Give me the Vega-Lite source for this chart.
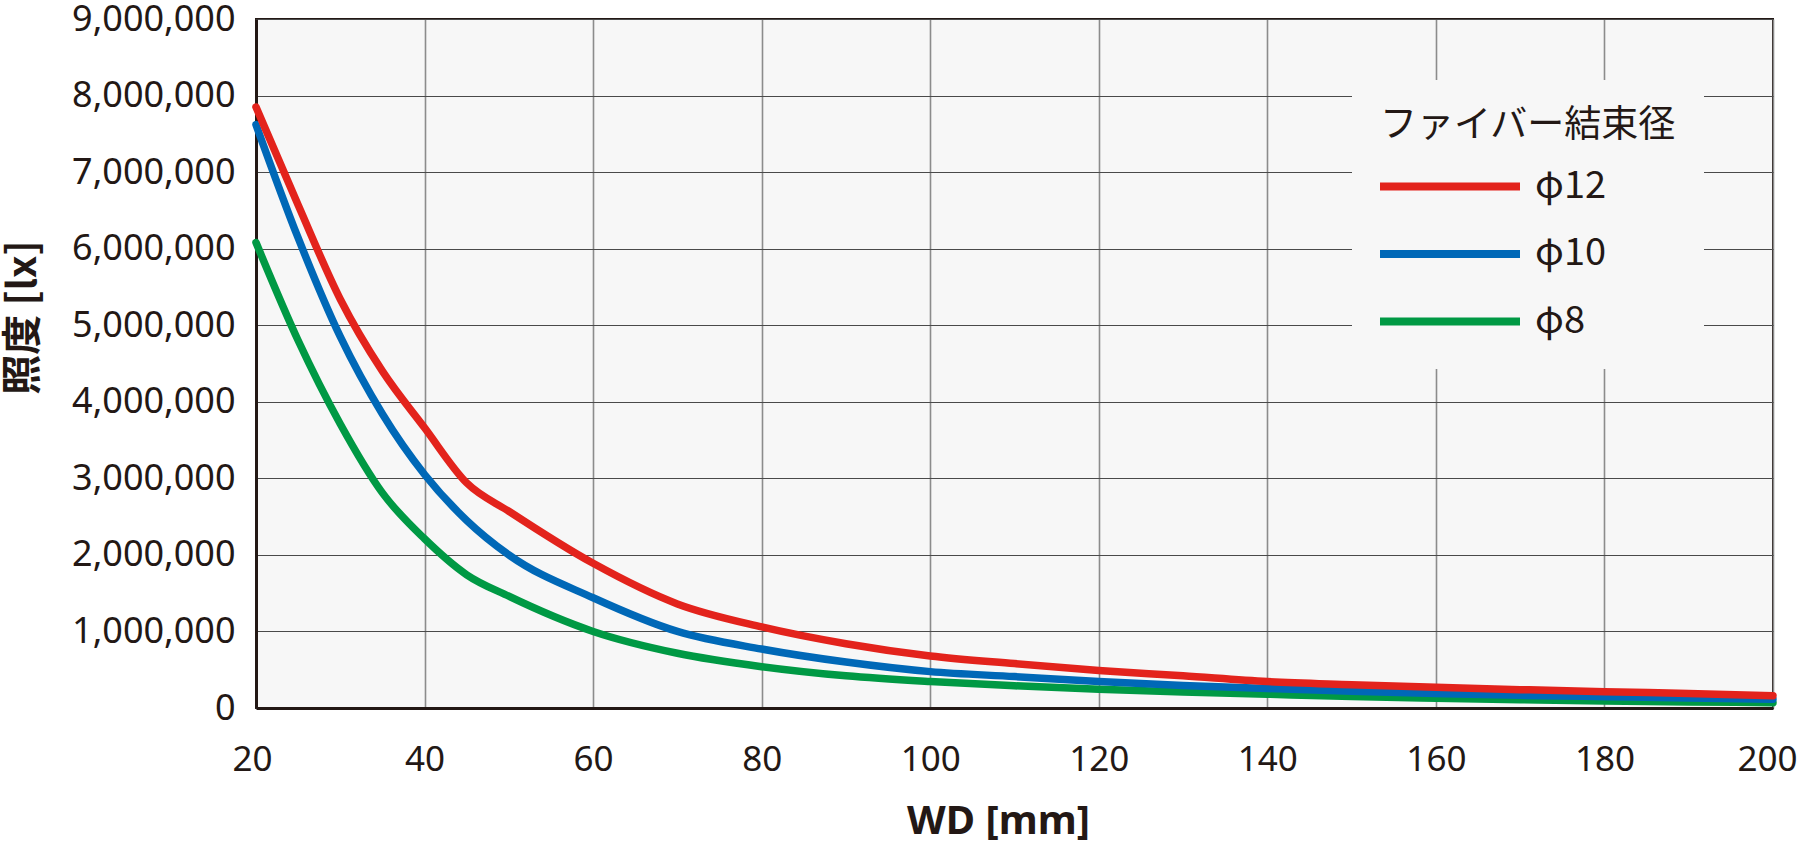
{
  "$schema": "https://vega.github.io/schema/vega-lite/v6.json",
  "width": 1517,
  "height": 689,
  "autosize": {"type": "none"},
  "padding": {"left": 256, "top": 19, "right": 27, "bottom": 136},
  "background": "#ffffff",
  "config": {
    "view": {"fill": "#f7f7f7", "stroke": "#231815", "strokeWidth": 2},
    "axis": {"labelColor": "#231815", "titleColor": "#231815"}
  },
  "data": {
    "values": [
      {"wd": 20, "lx": 6080000, "series": "φ8"},
      {"wd": 25, "lx": 4800000, "series": "φ8"},
      {"wd": 30, "lx": 3710000, "series": "φ8"},
      {"wd": 35, "lx": 2810000, "series": "φ8"},
      {"wd": 40, "lx": 2210000, "series": "φ8"},
      {"wd": 45, "lx": 1740000, "series": "φ8"},
      {"wd": 50, "lx": 1460000, "series": "φ8"},
      {"wd": 60, "lx": 1000000, "series": "φ8"},
      {"wd": 70, "lx": 715000, "series": "φ8"},
      {"wd": 80, "lx": 540000, "series": "φ8"},
      {"wd": 90, "lx": 420000, "series": "φ8"},
      {"wd": 100, "lx": 345000, "series": "φ8"},
      {"wd": 110, "lx": 290000, "series": "φ8"},
      {"wd": 120, "lx": 245000, "series": "φ8"},
      {"wd": 130, "lx": 210000, "series": "φ8"},
      {"wd": 140, "lx": 180000, "series": "φ8"},
      {"wd": 150, "lx": 150000, "series": "φ8"},
      {"wd": 160, "lx": 127000, "series": "φ8"},
      {"wd": 170, "lx": 108000, "series": "φ8"},
      {"wd": 180, "lx": 92000, "series": "φ8"},
      {"wd": 190, "lx": 80000, "series": "φ8"},
      {"wd": 200, "lx": 70000, "series": "φ8"},
      {"wd": 20, "lx": 7620000, "series": "φ10"},
      {"wd": 25, "lx": 6140000, "series": "φ10"},
      {"wd": 30, "lx": 4850000, "series": "φ10"},
      {"wd": 35, "lx": 3840000, "series": "φ10"},
      {"wd": 40, "lx": 3050000, "series": "φ10"},
      {"wd": 45, "lx": 2450000, "series": "φ10"},
      {"wd": 50, "lx": 2000000, "series": "φ10"},
      {"wd": 60, "lx": 1440000, "series": "φ10"},
      {"wd": 70, "lx": 1000000, "series": "φ10"},
      {"wd": 80, "lx": 770000, "series": "φ10"},
      {"wd": 90, "lx": 600000, "series": "φ10"},
      {"wd": 100, "lx": 475000, "series": "φ10"},
      {"wd": 110, "lx": 410000, "series": "φ10"},
      {"wd": 120, "lx": 345000, "series": "φ10"},
      {"wd": 130, "lx": 295000, "series": "φ10"},
      {"wd": 140, "lx": 255000, "series": "φ10"},
      {"wd": 150, "lx": 220000, "series": "φ10"},
      {"wd": 160, "lx": 190000, "series": "φ10"},
      {"wd": 170, "lx": 165000, "series": "φ10"},
      {"wd": 180, "lx": 148000, "series": "φ10"},
      {"wd": 190, "lx": 130000, "series": "φ10"},
      {"wd": 200, "lx": 114000, "series": "φ10"},
      {"wd": 20, "lx": 7850000, "series": "φ12"},
      {"wd": 25, "lx": 6570000, "series": "φ12"},
      {"wd": 30, "lx": 5340000, "series": "φ12"},
      {"wd": 35, "lx": 4400000, "series": "φ12"},
      {"wd": 40, "lx": 3660000, "series": "φ12"},
      {"wd": 45, "lx": 2940000, "series": "φ12"},
      {"wd": 50, "lx": 2570000, "series": "φ12"},
      {"wd": 60, "lx": 1890000, "series": "φ12"},
      {"wd": 70, "lx": 1360000, "series": "φ12"},
      {"wd": 80, "lx": 1060000, "series": "φ12"},
      {"wd": 90, "lx": 840000, "series": "φ12"},
      {"wd": 100, "lx": 680000, "series": "φ12"},
      {"wd": 110, "lx": 580000, "series": "φ12"},
      {"wd": 120, "lx": 490000, "series": "φ12"},
      {"wd": 130, "lx": 420000, "series": "φ12"},
      {"wd": 140, "lx": 345000, "series": "φ12"},
      {"wd": 150, "lx": 305000, "series": "φ12"},
      {"wd": 160, "lx": 270000, "series": "φ12"},
      {"wd": 170, "lx": 240000, "series": "φ12"},
      {"wd": 180, "lx": 213000, "series": "φ12"},
      {"wd": 190, "lx": 190000, "series": "φ12"},
      {"wd": 200, "lx": 160000, "series": "φ12"}
    ]
  },
  "mark": {
    "type": "line",
    "strokeWidth": 7.5,
    "strokeCap": "round",
    "strokeJoin": "round",
    "interpolate": "monotone",
    "clip": false
  },
  "encoding": {
    "x": {
      "field": "wd",
      "type": "quantitative",
      "scale": {"domain": [20, 200], "nice": false, "zero": false},
      "axis": {
        "title": "WD [mm]",
        "values": [20, 40, 60, 80, 100, 120, 140, 160, 180, 200],
        "grid": true,
        "gridColor": "#8c8c8c",
        "gridWidth": 1.6,
        "ticks": false,
        "domain": true,
        "domainColor": "#231815",
        "domainWidth": 3,
        "labelFont": "Noto Sans",
        "labelFontSize": 35,
        "labelPadding": 34,
        "labelFlush": true,
        "labelFlushOffset": 24,
        "labelOverlap": false,
        "titleFont": "Noto Sans",
        "titleFontSize": 40,
        "titleFontWeight": "bold",
        "titleX": 742,
        "titleY": 113,
        "titleAlign": "center",
        "titleBaseline": "middle"
      }
    },
    "y": {
      "field": "lx",
      "type": "quantitative",
      "scale": {"domain": [0, 9000000], "nice": false},
      "axis": {
        "title": "照度 [lx]",
        "values": [0, 1000000, 2000000, 3000000, 4000000, 5000000, 6000000, 7000000, 8000000, 9000000],
        "format": ",d",
        "grid": true,
        "gridColor": "#4a4a4a",
        "gridWidth": 1.2,
        "ticks": false,
        "domain": true,
        "domainColor": "#231815",
        "domainWidth": 3,
        "labelFont": "Noto Sans",
        "labelFontSize": 36,
        "labelPadding": 21,
        "labelOverlap": false,
        "titleFont": "Noto Sans CJK JP",
        "titleFontSize": 40,
        "titleFontWeight": "bold",
        "titleAngle": -90,
        "titleX": -233,
        "titleY": 298,
        "titleAlign": "center",
        "titleBaseline": "middle"
      }
    },
    "color": {
      "field": "series",
      "type": "nominal",
      "scale": {"domain": ["φ12", "φ10", "φ8"], "range": ["#e3231c", "#0068b7", "#009944"]},
      "legend": {
        "title": "ファイバー結束径",
        "orient": "none",
        "legendX": 1096,
        "legendY": 61,
        "direction": "vertical",
        "fillColor": "#f7f7f7",
        "padding": 28,
        "titleFont": "Noto Sans CJK JP",
        "titleFontSize": 37,
        "titleFontWeight": "normal",
        "titleColor": "#231815",
        "titleLimit": 600,
        "titlePadding": 23,
        "labelFont": "Noto Sans CJK JP",
        "labelFontSize": 38,
        "labelLimit": 300,
        "labelColor": "#231815",
        "labelOffset": 11,
        "symbolType": "stroke",
        "symbolSize": 19600,
        "symbolStrokeWidth": 8,
        "symbolOffset": -4,
        "clipHeight": 37,
        "rowPadding": 28.5
      }
    }
  }
}
